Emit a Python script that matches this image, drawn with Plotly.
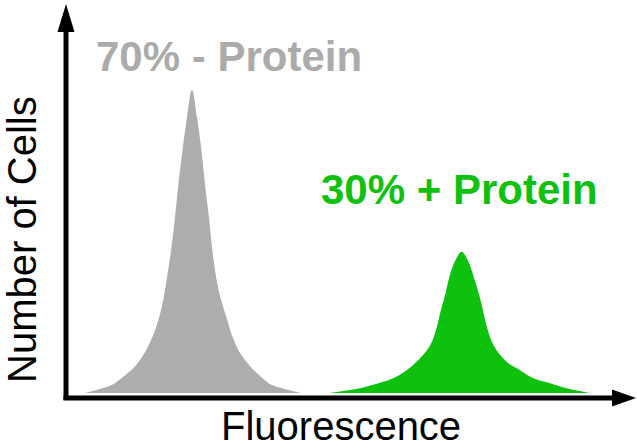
import plotly.graph_objects as go

W, H = 637, 448

# ---- data ----
gray_x = [3.33, 5.96, 8.0, 10.05, 11.8, 12.98, 13.9, 15.3, 16.3, 17.0, 17.5, 18.4, 19.1,
          19.7, 20.4, 21.2, 22.1, 23.0, 23.8, 24.4, 25.1, 25.7, 26.6, 27.3, 28.2, 29.1,
          30.4, 31.4, 32.6, 34.2, 36.1, 38.4, 41.2]
gray_y = [0.0, 1.32, 2.6, 5.38, 8.2, 10.9, 13.6, 19.1, 24.7, 30.1, 35.6, 46.6, 57.7,
          68.6, 79.6, 90.7, 100.0, 90.7, 79.6, 68.6, 57.7, 46.6, 35.6, 30.1, 24.7, 19.1,
          13.6, 10.9, 8.2, 5.38, 2.6, 1.32, 0.0]

green_x = [46.3, 51.6, 54.8, 57.4, 59.8, 61.5, 63.9, 65.0, 65.7, 66.5, 67.2, 68.2, 69.4,
           70.6, 71.6, 72.5, 73.2, 73.9, 75.0, 77.3, 79.6, 82.0, 84.9, 87.8, 91.9]
green_y = [0.0, 1.55, 3.2, 4.85, 7.6, 10.3, 15.8, 21.4, 26.8, 32.3, 37.9, 43.3, 46.6,
           43.3, 37.9, 32.3, 26.8, 21.4, 15.8, 10.3, 7.6, 4.85, 3.2, 1.55, 0.0]

label_minus = "70% - Protein"
label_plus = "30% + Protein"
x_title = "Fluorescence"
y_title = "Number of Cells"

GRAY = "#adadad"
GRAY_TXT = "#ababab"
GREEN = "#0dc10d"
FONT = "Liberation Sans, Arial, Helvetica, sans-serif"


def px(x, y):
    return x / W, 1 - y / H


fig = go.Figure()
fig.add_trace(go.Scatter(x=gray_x, y=gray_y, mode="lines", fill="tozeroy",
                         fillcolor=GRAY, line=dict(color=GRAY, width=0, shape="spline", smoothing=1.0),
                         hoverinfo="skip", showlegend=False))
fig.add_trace(go.Scatter(x=green_x, y=green_y, mode="lines", fill="tozeroy",
                         fillcolor=GREEN, line=dict(color=GREEN, width=0, shape="spline", smoothing=1.0),
                         hoverinfo="skip", showlegend=False))

shapes = []
x0, y0 = px(66, 400)
x1, y1 = px(66, 30)
shapes.append(dict(type="line", xref="paper", yref="paper", x0=x0, y0=y0, x1=x1, y1=y1,
                   line=dict(color="black", width=5)))
x0, y0 = px(63.5, 398)
x1, y1 = px(615, 398)
shapes.append(dict(type="line", xref="paper", yref="paper", x0=x0, y0=y0, x1=x1, y1=y1,
                   line=dict(color="black", width=5)))


def tri(pts):
    s = ""
    for i, (a, b) in enumerate(pts):
        u, v = px(a, b)
        s += ("M" if i == 0 else "L") + f"{u:.5f},{v:.5f} "
    return s + "Z"


shapes.append(dict(type="path", xref="paper", yref="paper",
                   path=tri([(57.5, 32), (74.5, 32), (66, 4)]),
                   fillcolor="black", line=dict(color="black", width=0)))
shapes.append(dict(type="path", xref="paper", yref="paper",
                   path=tri([(612, 389.5), (612, 406.5), (636, 398)]),
                   fillcolor="black", line=dict(color="black", width=0)))

annotations = []
ax, ay = px(94, 56)
annotations.append(dict(text=f"<b>{label_minus}</b>", x=ax, y=ay, xref="paper", yref="paper",
                        xanchor="left", yanchor="middle", showarrow=False,
                        font=dict(family=FONT, size=42, color=GRAY_TXT)))
ax, ay = px(319, 190)
annotations.append(dict(text=f"<b>{label_plus}</b>", x=ax, y=ay, xref="paper", yref="paper",
                        xanchor="left", yanchor="middle", showarrow=False,
                        font=dict(family=FONT, size=42, color=GREEN)))
ax, ay = px(340.5, 426)
annotations.append(dict(text=x_title, x=ax, y=ay, xref="paper", yref="paper",
                        xanchor="center", yanchor="middle", showarrow=False,
                        font=dict(family=FONT, size=40, color="black")))
ax, ay = px(22, 240)
annotations.append(dict(text=y_title, x=ax, y=ay, xref="paper", yref="paper",
                        xanchor="center", yanchor="middle", showarrow=False, textangle=-90,
                        font=dict(family=FONT, size=40, color="black")))

fig.update_layout(
    width=W, height=H,
    margin=dict(l=0, r=0, t=0, b=0),
    paper_bgcolor="white", plot_bgcolor="white",
    xaxis=dict(domain=[66 / W, 636 / W], range=[0, 100], visible=False, fixedrange=True),
    yaxis=dict(domain=[(H - 393) / H, (H - 90) / H], range=[0, 100], visible=False, fixedrange=True),
    shapes=shapes, annotations=annotations,
    showlegend=False,
)

fig.write_html("out.html", config={"displayModeBar": False},
               post_script="document.body.style.margin='0';document.body.style.overflow='hidden';")
